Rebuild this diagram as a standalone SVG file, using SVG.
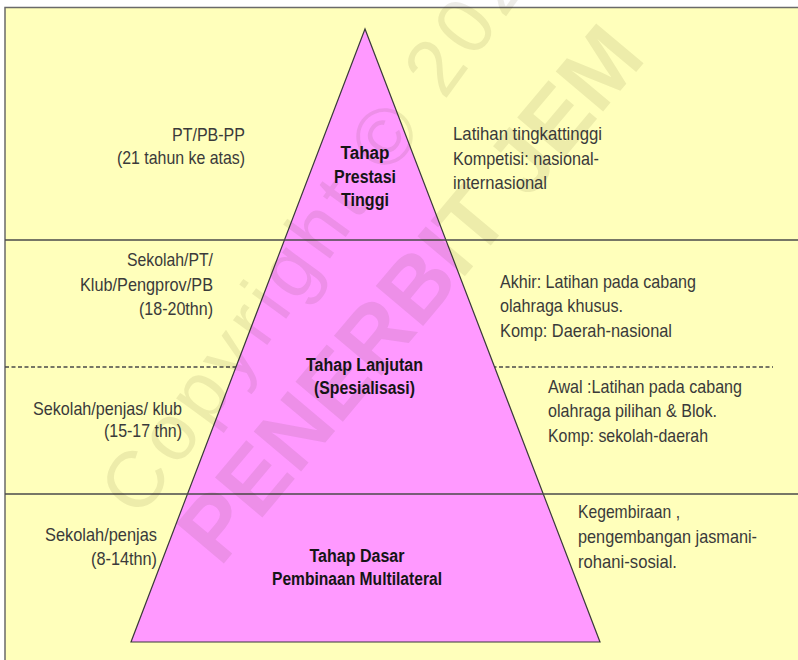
<svg xmlns="http://www.w3.org/2000/svg" width="798" height="660" viewBox="0 0 798 660">
<style>
.t{font-family:"Liberation Sans",Arial,sans-serif;font-size:18.5px;fill:#3a3a3a}
.b{font-family:"Liberation Sans",Arial,sans-serif;font-size:17.5px;font-weight:bold;fill:#151515;text-anchor:middle}
.e{text-anchor:end}
.sep{stroke:#4a4a4a;stroke-width:1.5;fill:none}
.wm{font-family:"Liberation Sans",Arial,sans-serif;fill:#3a3000;fill-opacity:0.09}
</style>
<rect x="0" y="0" width="798" height="660" fill="#ffffff"/>
<rect x="5" y="7.5" width="793" height="652.5" fill="#ffffbb"/>
<path d="M5 660 V7.5 H798" fill="none" stroke="#6a6a6a" stroke-width="1.5"/>
<g id="connectors">
<line class="sep" x1="5" y1="367" x2="773" y2="367" stroke-dasharray="4,2.5" stroke-width="1.2"/>
</g>
<g id="pyramid">
<polygon points="365,29 131,642 600,642" fill="#ff99ff" stroke="#3a3a3a" stroke-width="1.2"/>
</g>
<g id="levels">
<line class="sep" x1="5" y1="240" x2="798" y2="240"/>
<line class="sep" x1="5" y1="494" x2="798" y2="494"/>
</g>
<g id="watermark">
<text class="wm" x="140" y="520" font-size="80" letter-spacing="6" transform="rotate(-54 140 520)">Copyright © 2024</text>
<text class="wm" x="220" y="568" font-size="90" font-weight="bold" transform="rotate(-50 220 568)">PENERBIT JEM</text>
</g>
<g id="tier-prestasi">
<text class="b" x="365" y="159" textLength="49" lengthAdjust="spacingAndGlyphs">Tahap</text>
<text class="b" x="365" y="183" textLength="62" lengthAdjust="spacingAndGlyphs">Prestasi</text>
<text class="b" x="365" y="206" textLength="48" lengthAdjust="spacingAndGlyphs">Tinggi</text>
<text class="t e" x="245" y="141" textLength="73" lengthAdjust="spacingAndGlyphs">PT/PB-PP</text>
<text class="t e" x="245" y="164" textLength="128" lengthAdjust="spacingAndGlyphs">(21 tahun ke atas)</text>
<text class="t" x="453" y="140" textLength="149" lengthAdjust="spacingAndGlyphs">Latihan tingkattinggi</text>
<text class="t" x="453" y="165" textLength="146" lengthAdjust="spacingAndGlyphs">Kompetisi: nasional-</text>
<text class="t" x="453" y="189" textLength="94" lengthAdjust="spacingAndGlyphs">internasional</text>
</g>
<g id="tier-lanjutan">
<text class="b" x="364.5" y="371" textLength="117" lengthAdjust="spacingAndGlyphs">Tahap Lanjutan</text>
<text class="b" x="364.5" y="394" textLength="101" lengthAdjust="spacingAndGlyphs">(Spesialisasi)</text>
<text class="t e" x="213" y="266" textLength="86" lengthAdjust="spacingAndGlyphs">Sekolah/PT/</text>
<text class="t e" x="213" y="291" textLength="133" lengthAdjust="spacingAndGlyphs">Klub/Pengprov/PB</text>
<text class="t e" x="213" y="315" textLength="74" lengthAdjust="spacingAndGlyphs">(18-20thn)</text>
<text class="t" x="500" y="288" textLength="196" lengthAdjust="spacingAndGlyphs">Akhir: Latihan pada cabang</text>
<text class="t" x="500" y="312" textLength="123" lengthAdjust="spacingAndGlyphs">olahraga khusus.</text>
<text class="t" x="500" y="337" textLength="172" lengthAdjust="spacingAndGlyphs">Komp: Daerah-nasional</text>
<text class="t e" x="182" y="415" textLength="149" lengthAdjust="spacingAndGlyphs">Sekolah/penjas/ klub</text>
<text class="t e" x="182" y="437" textLength="78" lengthAdjust="spacingAndGlyphs">(15-17 thn)</text>
<text class="t" x="548" y="393" textLength="194" lengthAdjust="spacingAndGlyphs">Awal :Latihan pada cabang</text>
<text class="t" x="548" y="417" textLength="169" lengthAdjust="spacingAndGlyphs">olahraga pilihan &amp; Blok.</text>
<text class="t" x="548" y="442" textLength="160" lengthAdjust="spacingAndGlyphs">Komp: sekolah-daerah</text>
</g>
<g id="tier-dasar">
<text class="b" x="357" y="562" textLength="95" lengthAdjust="spacingAndGlyphs">Tahap Dasar</text>
<text class="b" x="357" y="585" textLength="170" lengthAdjust="spacingAndGlyphs">Pembinaan Multilateral</text>
<text class="t e" x="157" y="541" textLength="112" lengthAdjust="spacingAndGlyphs">Sekolah/penjas</text>
<text class="t e" x="157" y="565" textLength="66" lengthAdjust="spacingAndGlyphs">(8-14thn)</text>
<text class="t" x="578" y="518" textLength="102" lengthAdjust="spacingAndGlyphs">Kegembiraan ,</text>
<text class="t" x="578" y="543" textLength="179" lengthAdjust="spacingAndGlyphs">pengembangan jasmani-</text>
<text class="t" x="578" y="568" textLength="99" lengthAdjust="spacingAndGlyphs">rohani-sosial.</text>
</g>
</svg>
